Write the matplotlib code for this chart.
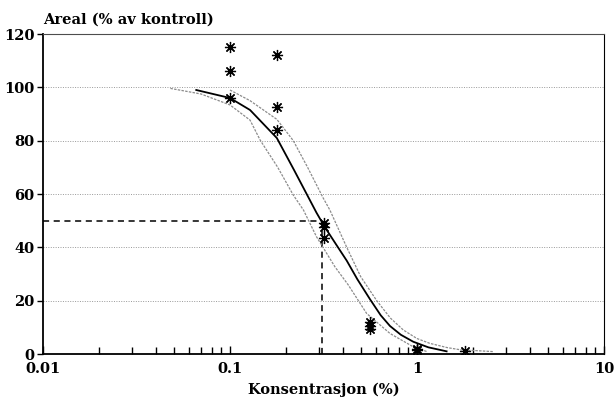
import numpy as np
import matplotlib
matplotlib.use("Agg")
import matplotlib.pyplot as plt
from matplotlib.ticker import LogLocator, FixedLocator, NullFormatter

# maalte punkter (konsentrasjon %, areal % av kontroll)
konc = [0.1, 0.1, 0.1, 0.178, 0.178, 0.178, 0.32, 0.32, 0.32,
        0.56, 0.56, 0.56, 1.0, 1.0, 1.8]
areal = [115, 106, 96, 112, 92.5, 84, 49, 47.5, 43.5,
         12, 10.5, 9.5, 2, 1.5, 1]

# tilpasset kurve (avlest)
kurve_x = [0.066, 0.1, 0.128, 0.178, 0.22, 0.257, 0.29, 0.322, 0.37, 0.421,
           0.48, 0.561, 0.64, 0.717, 0.82, 0.955, 1.15, 1.44]
kurve_y = [99, 96, 91.5, 81, 69, 60, 53, 47.5, 41, 35,
           28, 20.5, 14.5, 10.5, 7.2, 4.6, 2.5, 1.0]

# konfidensgrenser
ovre_x = [0.1, 0.128, 0.178, 0.218, 0.26, 0.315, 0.342, 0.421, 0.5, 0.609,
          0.72, 0.845, 1.0, 1.17, 1.45, 1.7, 2.55]
ovre_y = [99, 95, 88, 80, 70, 58.5, 54, 40, 29, 20,
          13.5, 9, 5.8, 4, 2.4, 1.6, 0.9]
nedre_x = [0.048, 0.07, 0.1, 0.128, 0.145, 0.18, 0.218, 0.247, 0.29, 0.364,
           0.429, 0.538, 0.717, 0.955, 1.13]
nedre_y = [99.6, 97.5, 93.4, 87.7, 80.2, 70, 59.6, 54, 44, 32.7,
           25.9, 15.2, 7.7, 2.7, 0.9]

ec50 = 0.31
xticks = [0.01, 0.1, 1, 10]
xticklabels = ["0.01", "0.1", "1", "10"]
yticks = [0, 20, 40, 60, 80, 100, 120]

font = {"family": "DejaVu Serif", "weight": "bold", "size": 10.5}

fig = plt.figure(figsize=(6.16, 4), dpi=100)
ax = fig.add_axes([43/616, 46/400, 561/616, 320/400])

ax.set_xscale("log")
ax.set_xlim(0.01, 10)
ax.set_ylim(0, 120)

# rutenett
for yv in yticks[1:-1]:
    ax.axhline(yv, color="0.6", lw=0.7, ls=(0, (1, 1.5)), zorder=1)

# EC50 linjer
ax.plot([0.01, ec50], [50, 50], color="black", lw=1.1, ls=(0, (4, 3)), zorder=2)
ax.plot([ec50, ec50], [0, 50], color="black", lw=1.1, ls=(0, (4, 3)), zorder=2)

ax.plot(ovre_x, ovre_y, color="0.55", lw=0.9, ls=(0, (2, 1)), zorder=3)
ax.plot(nedre_x, nedre_y, color="0.55", lw=0.9, ls=(0, (2, 1)), zorder=3)
ax.plot(kurve_x, kurve_y, color="black", lw=1.3, zorder=4)

ax.plot(konc, areal, ls="none", marker=(8, 2, 0), ms=8, mew=0.9,
        color="black", zorder=5)

# akser
ax.spines["top"].set_linestyle((0, (1, 1)))
ax.spines["top"].set_color("0.3")
ax.spines["top"].set_linewidth(0.8)
ax.spines["right"].set_linewidth(0.8)
ax.spines["left"].set_linewidth(1.3)
ax.spines["bottom"].set_linewidth(1.3)

ax.xaxis.set_major_locator(FixedLocator(xticks))
ax.set_xticklabels(xticklabels, fontdict=font)
ax.xaxis.set_minor_locator(LogLocator(base=10, subs=np.arange(2, 10)))
ax.xaxis.set_minor_formatter(NullFormatter())
ax.tick_params(axis="x", which="both", direction="in", top=False, pad=6)
ax.tick_params(axis="x", which="major", length=6, width=1)
ax.tick_params(axis="x", which="minor", length=5, width=1)

ax.set_yticks(yticks)
ax.set_yticklabels([str(v) for v in yticks], fontdict=font)
ax.tick_params(axis="y", which="both", direction="out", right=False,
               length=4, width=1, pad=2)

ax.text(0, 1 + 10/320, "Areal (% av kontroll)", transform=ax.transAxes,
        ha="left", va="baseline", fontdict=font)
fig.text(323.5/616, 1 - 390/400, "Konsentrasjon (%)", ha="center",
         va="center", fontdict=font)

fig.savefig("out.png", dpi=100)
